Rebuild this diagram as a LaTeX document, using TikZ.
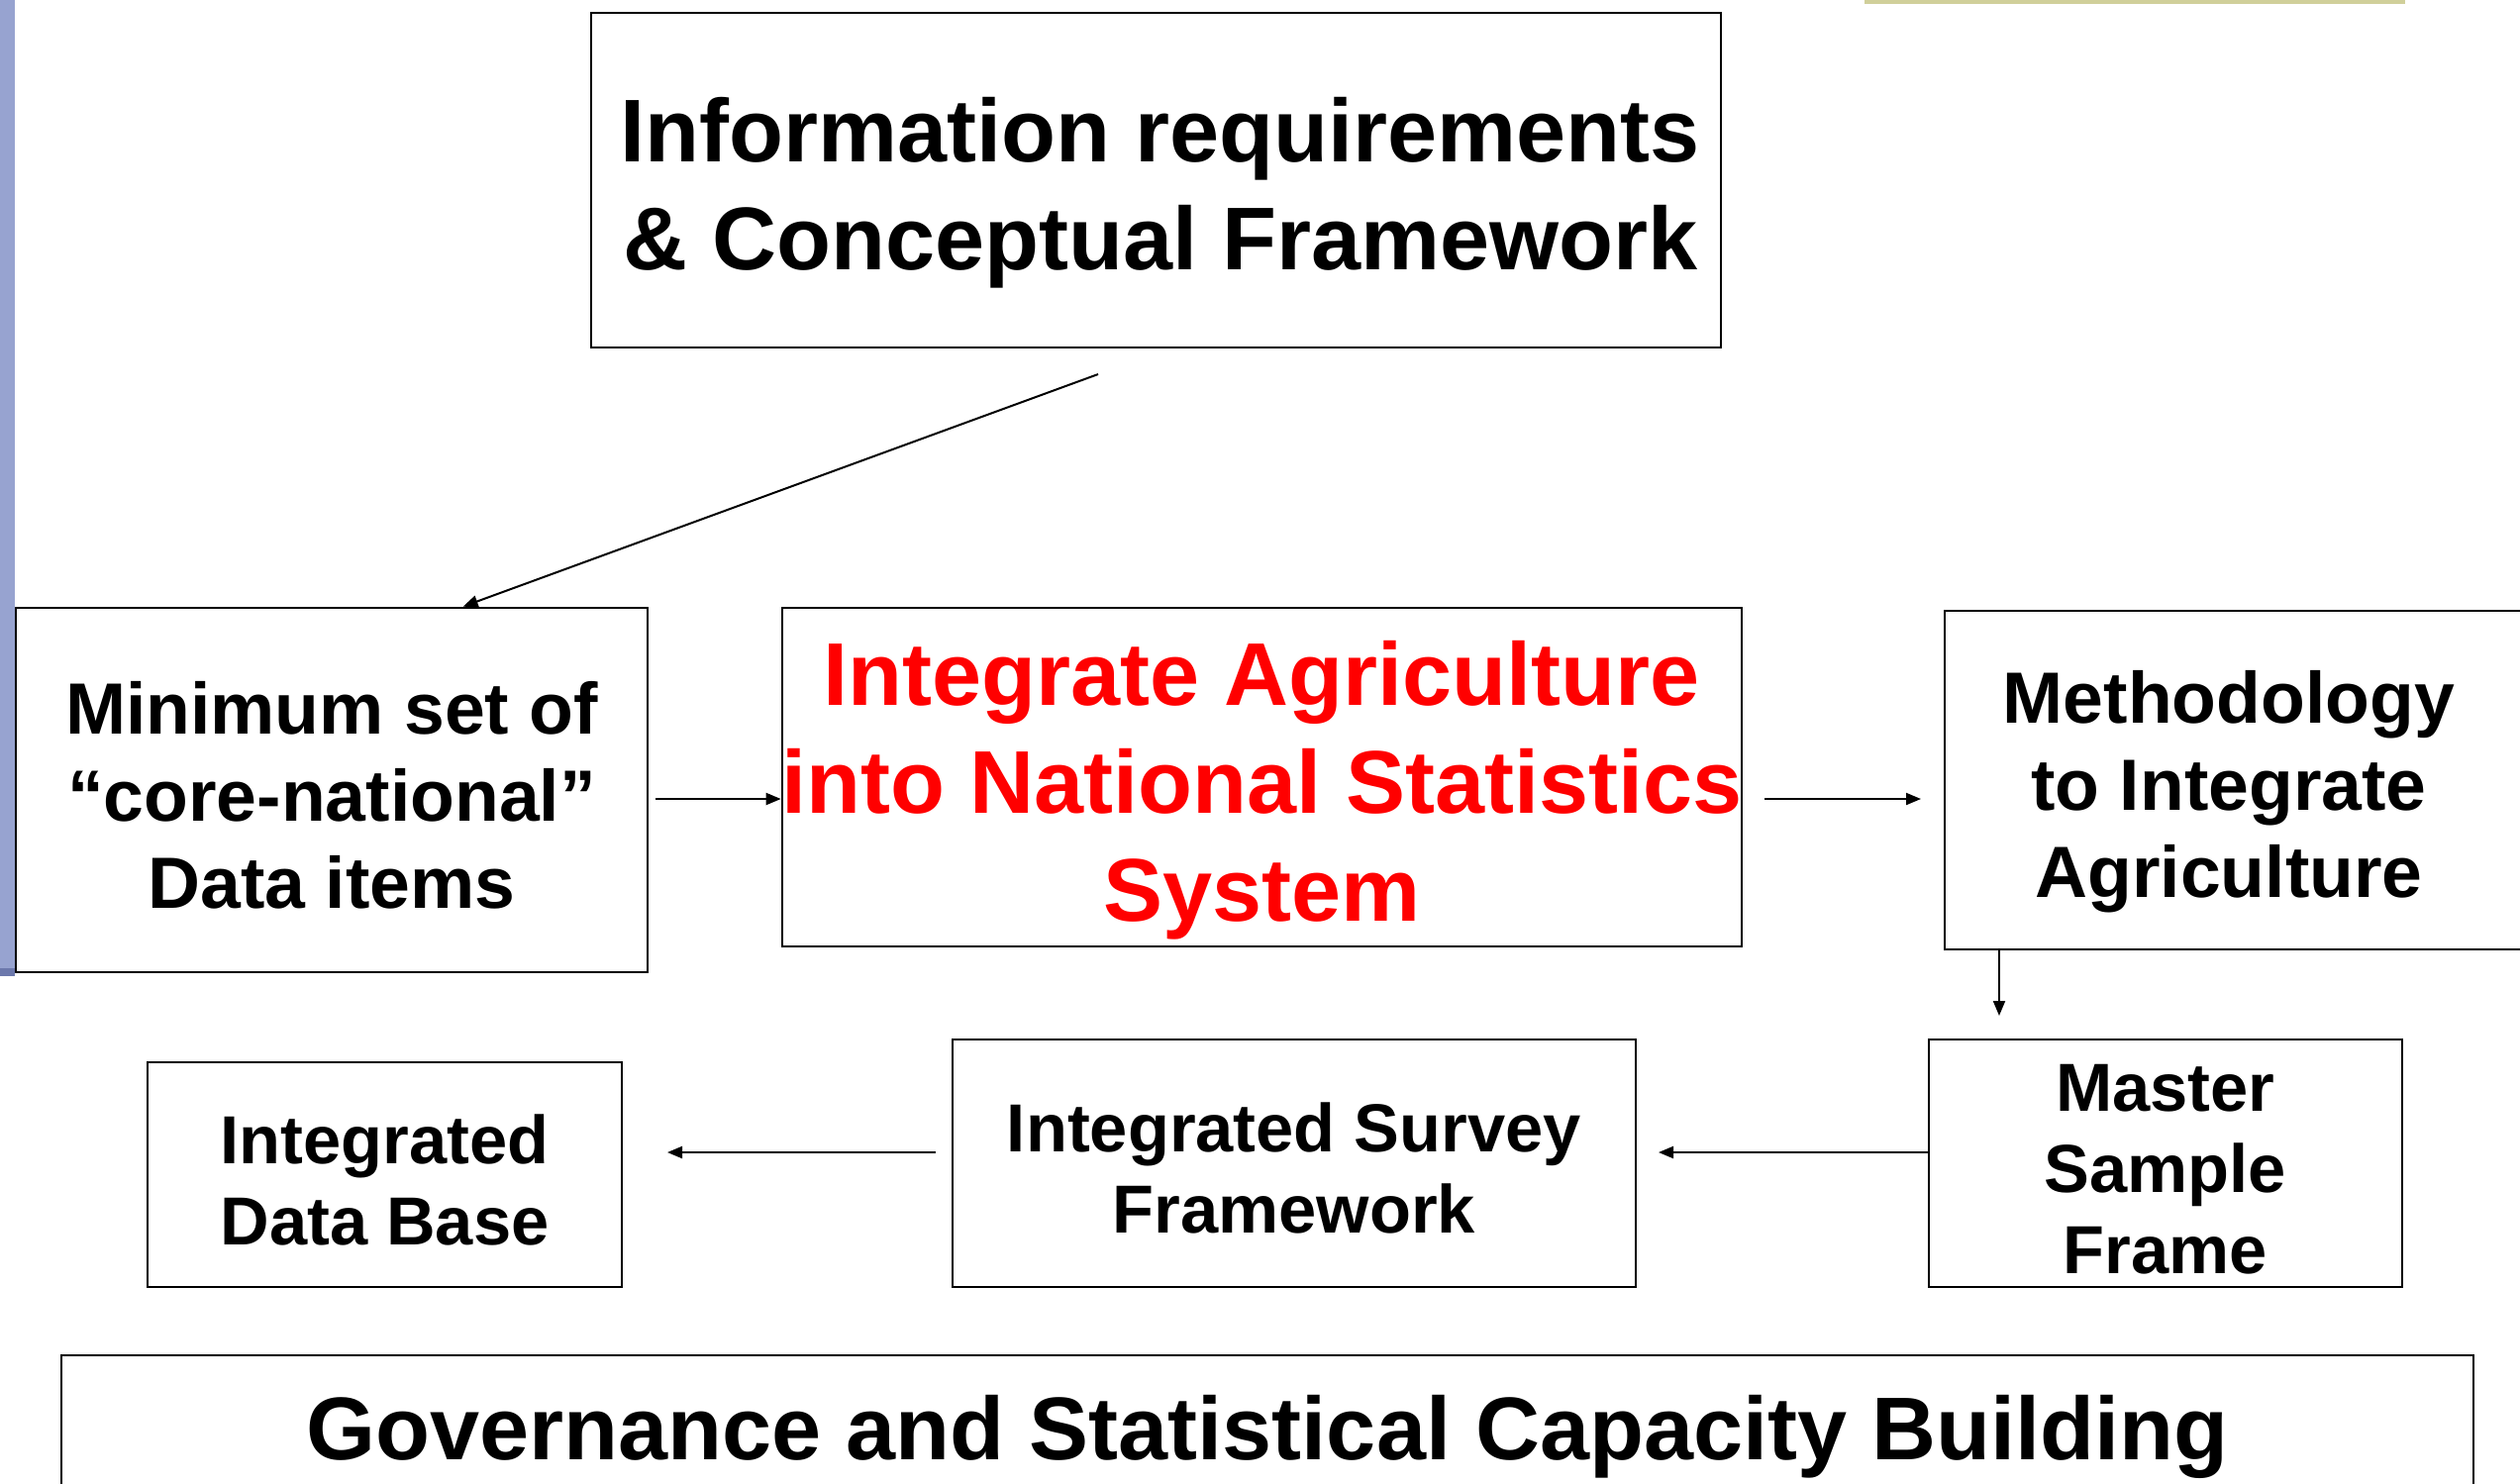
\documentclass[tikz,border=0pt]{standalone}
\usepackage{fontspec}
\setmainfont{Liberation Sans}
\usetikzlibrary{arrows.meta,calc}
\definecolor{leftbar}{HTML}{97A3D0}
\definecolor{leftbardark}{HTML}{6C78AC}
\definecolor{topbar}{HTML}{D0CF9A}
\begin{document}
\begin{tikzpicture}[x=0.3pt,y=-0.3pt,
  box/.style={draw=black,line width=0.8pt,inner sep=0pt,align=center},
  big/.style={font=\fontsize{27}{32.7}\selectfont\bfseries},
  mid/.style={font=\fontsize{22}{26.4}\selectfont\bfseries},
  sml/.style={font=\fontsize{20.6}{24.6}\selectfont\bfseries},
  lbl/.style={inner sep=0pt,align=center},
  arr/.style={line width=0.6pt,-{Triangle[length=4.5pt,width=3.6pt]}}]
\useasboundingbox (0,0) rectangle (2545,1498);
\clip (0,0) rectangle (2545,1498);
\fill[white] (0,0) rectangle (2545,1498);
% decorative bars
\fill[leftbar] (0,0) rectangle (15,985);
\fill[leftbardark] (0,978) rectangle (15,986);
\fill[topbar] (1883,0) rectangle (2429,4);
% boxes
\node[box,minimum width=342.3pt,minimum height=101.4pt] (info) at (1167.5,182) {};
\node[lbl,big] (infotext) at (1172,195)
  {Information requirements\\\& Conceptual Framework};
\node[box,minimum width=191.4pt,minimum height=110.4pt] (mins) at (335,798) {};
\node[lbl,mid] (minstext) at (335,803)
  {Minimum set of\\``core-national''\\Data items};
\node[box,minimum width=290.7pt,minimum height=102.6pt] (integ) at (1274.5,785) {};
\node[lbl,big,text=red] (integtext) at (1274.5,798)
  {Integrate Agriculture\\into National Statistics\\System};
\node[box,minimum width=184.8pt,minimum height=102.6pt] (meth) at (2272,788) {};
\node[lbl,mid] (methtext) at (2251,800)
  {Methodology\\to Integrate\\Agriculture};
\node[box,minimum width=143.4pt,minimum height=75pt] (master) at (2187,1175) {};
\node[lbl,sml] (mastertext) at (2187,1181) {Master\\Sample\\Frame};
\node[box,minimum width=207pt,minimum height=75pt] (isf) at (1307,1175) {};
\node[lbl,sml] (isftext) at (1307,1180) {Integrated Survey\\Framework};
\node[box,minimum width=143.7pt,minimum height=68.1pt] (idb) at (388.5,1186.5) {};
\node[lbl,sml] (idbtext) at (388.5,1191.5) {Integrated\\Data Base};
\node[box,minimum width=730.8pt,minimum height=44.4pt] (gov) at (1280,1443) {};
\node[lbl,big] (govtext) at (1280,1451) {Governance and Statistical Capacity Building};
% connector free ends
\coordinate (d1) at (1109,378);
\coordinate (a2) at (662,807);
\coordinate (a3s) at (1782,807);
\coordinate (a3e) at (1940,807);
\coordinate (a4e) at (2019,1026);
\coordinate (a5e) at (1675,1164);
\coordinate (a6s) at (945,1164);
\coordinate (a6e) at (674,1164);
% connectors
\draw[arr] (d1) -- ([xshift=135.9pt]mins.north west);
\draw[arr] (a2) -- (a2 -| integ.west);
\draw[arr] (a3s) -- (a3e);
\draw[arr] (a4e |- meth.south) -- (a4e);
\draw[arr] (a5e -| master.west) -- (a5e);
\draw[arr] (a6s) -- (a6e);
\end{tikzpicture}
\end{document}
